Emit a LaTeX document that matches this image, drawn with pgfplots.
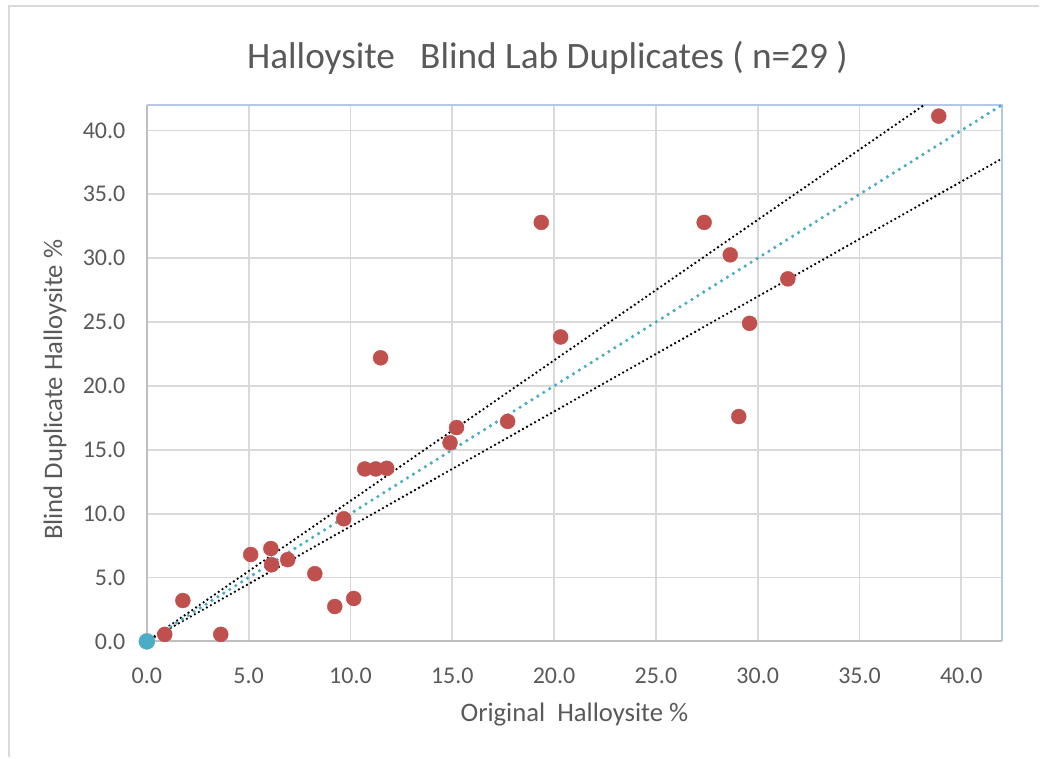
\documentclass[border=0pt]{standalone}
\usepackage{pgfplots}
\pgfplotsset{compat=1.18}
\usepackage{fontspec}
\setmainfont{Carlito}
\definecolor{txt}{HTML}{595959}
\definecolor{gridc}{HTML}{D9D9D9}
\definecolor{redpt}{HTML}{C0504D}
\definecolor{bluept}{HTML}{4BACC6}
\definecolor{frameb}{HTML}{B4C7E7}
\definecolor{axisg}{HTML}{BFBFBF}
\begin{document}
\begin{tikzpicture}
\begin{axis}[
  scale only axis,
  width=856pt, height=537pt,
  xmin=0, xmax=42, ymin=0, ymax=42,
  xtick={0,5,...,40}, ytick={0,5,...,40},
  xticklabel style={font=\fontsize{24}{28}\selectfont, text=txt, yshift=-23pt},
  yticklabel style={font=\fontsize{24}{28}\selectfont, text=txt, xshift=-18pt},
  /pgf/number format/assume math mode=true,
  /pgf/number format/.cd, fixed, fixed zerofill, precision=1, /pgfplots/.cd,
  major tick length=0pt,
  grid=major,
  major grid style={draw=gridc, line width=1.8pt},
  axis line style={draw=none},
  clip=false,
]
% frame
\draw[frameb, line width=2pt] (rel axis cs:0,1) -- (rel axis cs:1,1) -- (rel axis cs:1,0);
\draw[axisg, line width=2pt] (rel axis cs:0,1) -- (rel axis cs:0,0) -- (rel axis cs:1,0);
% outer chart border
\draw[gridc, line width=2pt] (rel axis cs:-0.161,-0.216) -- (rel axis cs:-0.161,1.1844) -- (rel axis cs:1.0432,1.1844);
% bounding box
\path (rel axis cs:-0.1717,-0.216) rectangle (rel axis cs:1.0432,1.1955);
% +/- 10% lines
\addplot[black, line width=2.6pt, dash pattern=on 0pt off 4.6pt, line cap=round] coordinates {(0,0) (38.18,42)};
\addplot[black, line width=2.6pt, dash pattern=on 0pt off 4.6pt, line cap=round] coordinates {(0,0) (42,37.8)};
% 1:1 line
\addplot[bluept, line width=3.6pt, dash pattern=on 0pt off 7pt, line cap=round] coordinates {(0,0) (42,42)};
% data
\addplot[only marks, mark=*, mark size=7.5pt, mark options={draw=redpt, fill=redpt}] coordinates {
(0.88,0.55) (1.77,3.2) (3.63,0.55) (5.1,6.8) (6.09,7.27) (6.13,6.0) (6.92,6.4)
(8.25,5.3) (9.23,2.73) (10.16,3.36) (9.67,9.6) (10.7,13.5) (11.24,13.5) (11.78,13.55)
(11.48,22.2) (14.89,15.55) (15.21,16.74) (17.72,17.22) (19.37,32.8) (20.32,23.83)
(27.37,32.8) (28.65,30.26) (29.07,17.6) (29.6,24.9) (31.48,28.38) (38.89,41.12)
};
\addplot[only marks, mark=*, mark size=8pt, mark options={draw=bluept, fill=bluept}] coordinates {(0,0)};
% texts
\node[font=\fontsize{37.3}{44}\selectfont, text=txt] at (rel axis cs:0.4685,1.0875) {Halloysite\ \ \ Blind Lab Duplicates ( n=29 )};
\node[font=\fontsize{26.7}{32}\selectfont, text=txt] at (rel axis cs:0.5,-0.136) {Original\ \ Halloysite \%};
\node[font=\fontsize{26.7}{32}\selectfont, text=txt, rotate=90] at (rel axis cs:-0.1075,0.469) {Blind Duplicate Halloysite \%};
\end{axis}
\end{tikzpicture}
\end{document}
